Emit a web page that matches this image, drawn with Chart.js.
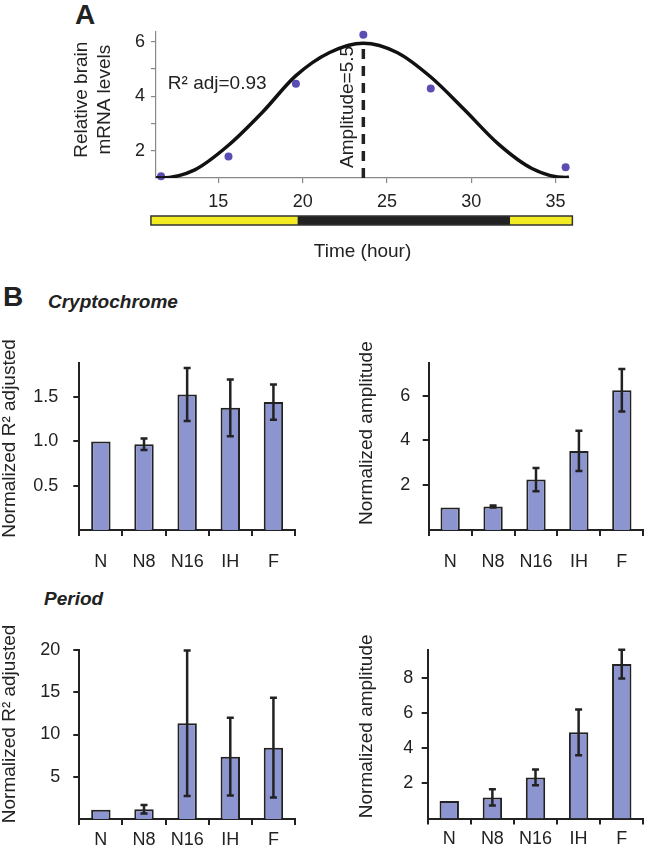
<!DOCTYPE html>
<html>
<head>
<meta charset="utf-8">
<script src="https://cdn.jsdelivr.net/npm/chart.js@4.4.0/dist/chart.umd.min.js"></script>
<style>
body { margin: 0; background: #fff; width: 646px; height: 853px; position: relative; overflow: hidden;
       font-family: "Liberation Sans", Arial, sans-serif; color: #222; }
canvas { position: absolute; }
.lbl { position: absolute; line-height: 1; white-space: nowrap; }
</style>
</head>
<body>
<div class="lbl" style="left:75px;top:1px;font-size:28px;font-weight:bold">A</div>
<div class="lbl" style="left:3px;top:283px;font-size:28px;font-weight:bold">B</div>
<div class="lbl" style="left:48px;top:292px;font-size:19px;font-weight:bold;font-style:italic">Cryptochrome</div>
<div class="lbl" style="left:44px;top:589px;font-size:19px;font-weight:bold;font-style:italic">Period</div>

<canvas id="chartA" width="646" height="263" style="left:0;top:0"></canvas>
<canvas id="cryR2" width="323" height="250" style="left:0;top:330px"></canvas>
<canvas id="cryAmp" width="323" height="250" style="left:323px;top:330px"></canvas>
<canvas id="perR2" width="323" height="238" style="left:0;top:615px"></canvas>
<canvas id="perAmp" width="323" height="238" style="left:323px;top:615px"></canvas>

<script>
"use strict";

// panel A: measured brain mRNA and the cosine fit
const TIMES = [11.6, 15.6, 19.6, 23.6, 27.6, 35.6];
const LEVELS = [1.06, 1.79, 4.45, 6.25, 4.28, 1.39];
const FIT_TIMES = [11.3, 11.6, 13.6, 15.6, 17.6, 19.6, 21.6, 23.6, 25.6, 27.6, 29.6, 31.6, 33.6, 35.6, 35.8];
const FIT_LEVELS = [1.01, 1.0, 1.3, 2.2, 3.4, 4.75, 5.6, 5.94, 5.6, 4.7, 3.5, 2.25, 1.35, 1.02, 1.03];
const PEAK_TIME = 23.6;
const PEAK_LEVEL = 5.94;
const A_X_TICKS = [15, 20, 25, 30, 35];
const A_Y_TICKS = [2, 3, 4, 5, 6];
const A_Y_LABELED = [2, 4, 6];
// light/dark bar under the time axis
const LD_EDGES = [11.0, 19.7, 32.3, 36.0];
const LD_STATES = ["light", "dark", "light"];

// panel B
const GROUPS = ["N", "N8", "N16", "IH", "F"];
const CRY_R2 = [1.0, 0.97, 1.53, 1.38, 1.445];
const CRY_R2_ERR = [0, 0.065, 0.30, 0.32, 0.20];
const CRY_AMP = [1.0, 1.05, 2.25, 3.53, 6.24];
const CRY_AMP_ERR = [0, 0.04, 0.52, 0.9, 0.95];
const PER_R2 = [1.1, 1.15, 11.33, 7.37, 8.44];
const PER_R2_ERR = [0, 0.5, 8.6, 4.6, 5.9];
const PER_AMP = [1.0, 1.2, 2.34, 4.91, 8.8];
const PER_AMP_ERR = [0, 0.46, 0.45, 1.3, 0.82];
const CRY_R2_TICKS = [0.5, 1.0, 1.5];
const CRY_AMP_TICKS = [2, 4, 6];
const PER_R2_TICKS = [5, 10, 15, 20];
const PER_AMP_TICKS = [2, 4, 6, 8];

const FONT = '"Liberation Sans", Arial, sans-serif';
Chart.defaults.font.family = FONT;
Chart.defaults.font.size = 18;
Chart.defaults.color = "#222";
Chart.defaults.animation = false;

const annotations = {
    id: "annotations",
    beforeDatasetsDraw(chart) {
        const {ctx, scales: {x, y}} = chart;
        ctx.save();
        ctx.font = "19px " + FONT;
        ctx.fillStyle = "#222";
        ctx.textBaseline = "middle";
        ctx.fillText("R\u00b2 adj=0.93", x.getPixelForValue(12.0), y.getPixelForValue(4.44));
        ctx.translate(x.getPixelForValue(22.7), y.getPixelForValue(1.37));
        ctx.rotate(-Math.PI / 2);
        ctx.textAlign = "left";
        ctx.fillText("Amplitude=5.5", 0, 0);
        ctx.restore();
    },
    afterDraw(chart) {
        const {ctx, chartArea, scales: {x}} = chart;
        const top = chartArea.bottom + 38, h = 9;
        ctx.save();
        for (let i = 0; i < LD_STATES.length; i++) {
            const x0 = x.getPixelForValue(LD_EDGES[i]);
            const x1 = x.getPixelForValue(LD_EDGES[i + 1]);
            ctx.fillStyle = LD_STATES[i] === "light" ? "#f2ea22" : "#222";
            ctx.fillRect(x0, top, x1 - x0, h);
        }
        const l = x.getPixelForValue(LD_EDGES[0]);
        const r = x.getPixelForValue(LD_EDGES[LD_EDGES.length - 1]);
        ctx.strokeStyle = "#333";
        ctx.lineWidth = 1.5;
        ctx.strokeRect(l, top, r - l, h);
        ctx.restore();
    }
};

new Chart(document.getElementById("chartA"), {
    type: "scatter",
    data: {
        datasets: [
            {type: "line", data: FIT_TIMES.map((t, i) => ({x: t, y: FIT_LEVELS[i]})),
             borderColor: "#111", borderWidth: 3.5, pointRadius: 0, cubicInterpolationMode: "monotone"},
            {type: "line", data: [{x: PEAK_TIME, y: 1}, {x: PEAK_TIME, y: PEAK_LEVEL}],
             borderColor: "#222", borderWidth: 3.5, borderDash: [10, 7], pointRadius: 0},
            {data: TIMES.map((t, i) => ({x: t, y: LEVELS[i]})), clip: false,
             backgroundColor: "#5a4db3", borderWidth: 0, pointRadius: 4}
        ]
    },
    options: {
        responsive: false,
        layout: {padding: {left: 0, top: 32, right: 77, bottom: 0}},
        plugins: {legend: {display: false}, tooltip: {enabled: false}},
        scales: {
            x: {
                type: "linear", min: 11.3, max: 35.8,
                afterBuildTicks: s => { s.ticks = A_X_TICKS.map(v => ({value: v})); },
                afterFit: s => { s.height = 85; },
                ticks: {padding: 8, font: {size: 18}},
                grid: {drawOnChartArea: false, tickLength: 5, color: "#888", lineWidth: 1.2},
                border: {color: "#888", width: 1.2},
                title: {display: true, text: "Time (hour)", font: {size: 19}, padding: 0}
            },
            y: {
                min: 1, max: 6.35,
                afterBuildTicks: s => { s.ticks = A_Y_TICKS.map(v => ({value: v})); },
                afterFit: s => { s.width = 156; },
                ticks: {padding: 6, font: {size: 18},
                        callback: v => A_Y_LABELED.includes(v) ? String(v) : ""},
                grid: {drawOnChartArea: false, tickLength: 5, color: "#888", lineWidth: 1.2},
                border: {color: "#888", width: 1.2},
                title: {display: true, text: ["  Relative brain", "  mRNA levels"],
                        font: {size: 19, lineHeight: 1.227}, padding: {top: 70}}
            }
        }
    },
    plugins: [annotations]
});

const errorBars = {
    id: "errorBars",
    afterDatasetsDraw(chart) {
        const ds = chart.data.datasets[0];
        const meta = chart.getDatasetMeta(0);
        const y = chart.scales.y;
        const ctx = chart.ctx;
        ctx.save();
        ctx.strokeStyle = "#222";
        ctx.lineWidth = 2.5;
        meta.data.forEach((bar, i) => {
            const e = ds.errors[i];
            if (!e) return;
            const top = y.getPixelForValue(ds.data[i] + e);
            const bot = y.getPixelForValue(ds.data[i] - e);
            ctx.beginPath();
            ctx.moveTo(bar.x, top); ctx.lineTo(bar.x, bot);
            ctx.moveTo(bar.x - 3.5, top); ctx.lineTo(bar.x + 3.5, top);
            ctx.moveTo(bar.x - 3.5, bot); ctx.lineTo(bar.x + 3.5, bot);
            ctx.stroke();
        });
        ctx.restore();
    }
};

function barChart(id, c) {
    return new Chart(document.getElementById(id), {
        type: "bar",
        data: {
            labels: GROUPS,
            datasets: [{
                data: c.values, errors: c.errors,
                backgroundColor: "#8d95d0", borderColor: "#222", borderWidth: 2,
                borderSkipped: "bottom", barPercentage: 0.45, categoryPercentage: 1
            }]
        },
        options: {
            responsive: false,
            layout: {padding: {left: 0, top: c.top, right: c.right, bottom: 0}},
            plugins: {legend: {display: false}, tooltip: {enabled: false}},
            scales: {
                x: {
                    afterFit: s => { s.height = c.xHeight; },
                    ticks: {padding: c.xPad, font: {size: 18}},
                    grid: {offset: true, drawOnChartArea: false, tickLength: 6, color: "#222", lineWidth: 2},
                    border: {color: "#222", width: 2}
                },
                y: {
                    min: 0, max: c.max,
                    afterBuildTicks: s => { s.ticks = c.ticks.map(v => ({value: v})); },
                    afterFit: s => { s.width = c.left; },
                    ticks: {padding: c.yPad, font: {size: 18},
                            callback: v => v.toFixed(c.decimals)},
                    grid: {drawOnChartArea: false, tickLength: 6, color: "#222", lineWidth: 2},
                    border: {color: "#222", width: 2},
                    title: {display: true, text: c.title, font: {size: 19, lineHeight: 1},
                            padding: {top: c.titlePad, bottom: 0}}
                }
            }
        },
        plugins: [errorBars]
    });
}

barChart("cryR2", {values: CRY_R2, errors: CRY_R2_ERR, ticks: CRY_R2_TICKS, max: 1.89, decimals: 1,
    title: "   Normalized R\u00b2 adjusted", left: 79.3, top: 32.7, right: 28, xHeight: 50, xPad: 15, yPad: 15, titlePad: 0});
barChart("cryAmp", {values: CRY_AMP, errors: CRY_AMP_ERR, ticks: CRY_AMP_TICKS, max: 7.47, decimals: 0,
    title: "     Normalized amplitude", left: 105.7, top: 32.7, right: 2.7, xHeight: 50, xPad: 15, yPad: 12.5, titlePad: 34});
barChart("perR2", {values: PER_R2, errors: PER_R2_ERR, ticks: PER_R2_TICKS, max: 20, decimals: 0,
    title: "    Normalized R\u00b2 adjusted", left: 79.3, top: 35, right: 28, xHeight: 34, xPad: 4, yPad: 13, titlePad: 0});
barChart("perAmp", {values: PER_AMP, errors: PER_AMP_ERR, ticks: PER_AMP_TICKS, max: 9.6, decimals: 0,
    title: "   Normalized amplitude", left: 104.7, top: 35, right: 2.7, xHeight: 34.5, xPad: 4, yPad: 8.5, titlePad: 34});
</script>
</body>
</html>
